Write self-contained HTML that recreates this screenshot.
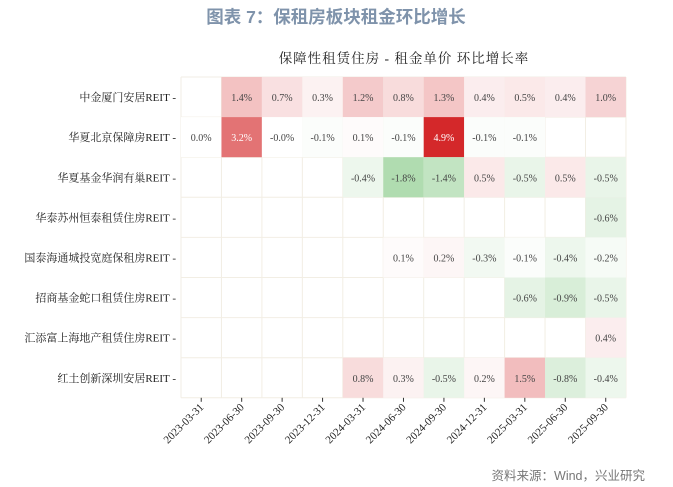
<!DOCTYPE html>
<html><head><meta charset="utf-8"><style>
body{margin:0;background:#fff;}
svg{display:block;}
</style></head><body>
<svg width="673" height="487" xmlns="http://www.w3.org/2000/svg">
<text x="336" y="23" text-anchor="middle" font-family="Liberation Sans, Noto Sans CJK SC, sans-serif" font-weight="bold" font-size="17.5" fill="#7f93ab">图表 7：保租房板块租金环比增长</text>
<text x="404" y="63" text-anchor="middle" font-family="Liberation Serif, Noto Serif CJK SC, serif" font-size="13.5" fill="#222" letter-spacing="1">保障性租赁住房 - 租金单价 环比增长率</text>
<g id="grid"></g>
<text x="645" y="480" text-anchor="end" font-family="Liberation Sans, Noto Sans CJK SC, sans-serif" font-size="12.5" fill="#777">资料来源：Wind，兴业研究</text>
</svg>
<script>
const data=[
[null,1.4,0.7,0.3,1.2,0.8,1.3,0.4,0.5,0.4,1.0],
[0.0,3.2,-0.0001,-0.1,0.1,-0.1,4.9,-0.1,-0.1,null,null],
[null,null,null,null,-0.4,-1.8,-1.4,0.5,-0.5,0.5,-0.5],
[null,null,null,null,null,null,null,null,null,null,-0.6],
[null,null,null,null,null,0.1,0.2,-0.3,-0.1,-0.4,-0.2],
[null,null,null,null,null,null,null,null,-0.6,-0.9,-0.5],
[null,null,null,null,null,null,null,null,null,null,0.4],
[null,null,null,null,0.8,0.3,-0.5,0.2,1.5,-0.8,-0.4]];
const labels=["中金厦门安居REIT","华夏北京保障房REIT","华夏基金华润有巢REIT","华泰苏州恒泰租赁住房REIT","国泰海通城投宽庭保租房REIT","招商基金蛇口租赁住房REIT","汇添富上海地产租赁住房REIT","红土创新深圳安居REIT"];
const dates=["2023-03-31","2023-06-30","2023-09-30","2023-12-31","2024-03-31","2024-06-30","2024-09-30","2024-12-31","2025-03-31","2025-06-30","2025-09-30"];
const x0=181,y0=77,cw=40.45,ch=40.1;
function col(v){
 if(v>=0){const f=Math.min(v/4.9,1);
  const r=Math.round(255+(212-255)*f),g=Math.round(255+(40-255)*f),b=Math.round(255+(42-255)*f);return `rgb(${r},${g},${b})`;}
 const t=Math.min(-v/1.8,1);const r=Math.round(255+(176-255)*t),g=Math.round(255+(220-255)*t),b=Math.round(255+(176-255)*t);return `rgb(${r},${g},${b})`;}
let s='';
for(let i=0;i<=11;i++){s+=`<line x1="${x0+i*cw}" y1="${y0}" x2="${x0+i*cw}" y2="${y0+8*ch}" stroke="#f2eee4" stroke-width="1"/>`;}
for(let j=0;j<=8;j++){s+=`<line x1="${x0}" y1="${y0+j*ch}" x2="${x0+11*cw}" y2="${y0+j*ch}" stroke="#f2eee4" stroke-width="1"/>`;}
data.forEach((row,j)=>{row.forEach((v,i)=>{if(v===null)return;const x=x0+i*cw,y=y0+j*ch;
 s+=`<rect x="${x}" y="${y}" width="${cw}" height="${ch}" fill="${col(v)}"/>`;
 const txt=(Math.abs(v)<0.001&&v<0?"-0.0":v.toFixed(1))+"%";
 s+=`<text x="${x+cw/2}" y="${y+ch/2+4}" text-anchor="middle" font-family="Liberation Serif, serif" font-size="10" fill="${v>3?'#fff':'#444'}">${txt}</text>`;});
 s+=`<text x="${x0-5}" y="${y0+j*ch+ch/2+4}" text-anchor="end" font-family="Liberation Serif, Noto Serif CJK SC, serif" font-size="11" fill="#222">${labels[j]} -</text>`;});
dates.forEach((d,i)=>{const x=x0+i*cw+cw/2,y=y0+8*ch;
 s+=`<line x1="${x}" y1="${y}" x2="${x}" y2="${y+4}" stroke="#333"/>`;
 s+=`<text transform="translate(${x+3},${y+10}) rotate(-45)" text-anchor="end" font-family="Liberation Serif, serif" font-size="11" fill="#222">${d}</text>`;});
document.getElementById('grid').innerHTML=s;
</script>
</body></html>
